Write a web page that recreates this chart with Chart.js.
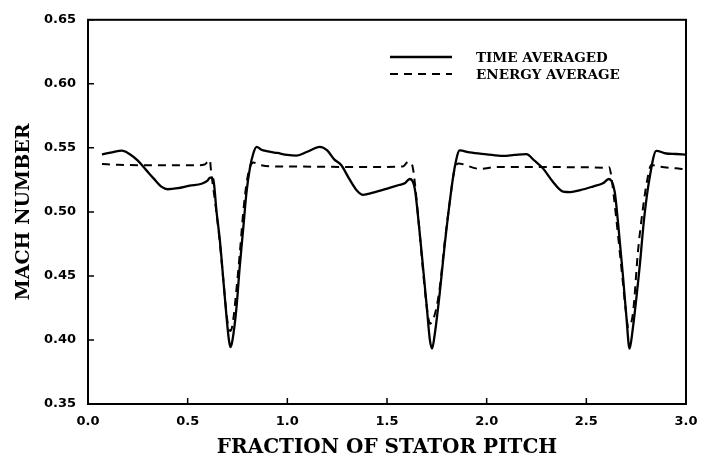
<!DOCTYPE html>
<html>
<head>
<meta charset="utf-8">
<script src="https://cdn.jsdelivr.net/npm/chart.js@4.4.1/dist/chart.umd.min.js"></script>
<style>
html,body{margin:0;padding:0;background:#fff;}
canvas{display:block;}
</style>
</head>
<body>
<canvas id="c" width="715" height="463"></canvas>
<script>
// ---- data ----
const xTicks = [0.0, 0.5, 1.0, 1.5, 2.0, 2.5, 3.0];
const yTicks = [0.35, 0.40, 0.45, 0.50, 0.55, 0.60, 0.65];

const timeAvgX = [0.07,0.12,0.17,0.21,0.25,0.29,0.33,0.37,0.40,0.45,0.51,0.57,0.60,0.612,0.628,0.645,0.662,0.68,0.695,0.707,0.715,0.725,0.745,0.76,0.779,0.795,0.812,0.83,0.846,0.87,0.896,0.95,1.00,1.046,1.10,1.163,1.20,1.235,1.27,1.31,1.35,1.38,1.43,1.497,1.56,1.589,1.614,1.639,1.66,1.681,1.70,1.715,1.726,1.74,1.764,1.79,1.815,1.84,1.865,1.915,2.00,2.082,2.14,2.199,2.24,2.282,2.33,2.383,2.42,2.47,2.533,2.583,2.613,2.642,2.66,2.683,2.70,2.717,2.73,2.767,2.79,2.817,2.851,2.901,2.95,2.995];
const timeAvgY = [0.545,0.5465,0.5478,0.545,0.540,0.533,0.526,0.5195,0.5177,0.5185,0.5205,0.522,0.5245,0.5267,0.5255,0.500,0.477,0.445,0.418,0.400,0.3944,0.400,0.4254,0.455,0.4875,0.515,0.534,0.546,0.5508,0.5485,0.5474,0.546,0.5445,0.544,0.547,0.5508,0.548,0.541,0.5366,0.526,0.5165,0.5133,0.515,0.518,0.521,0.5223,0.5257,0.5185,0.490,0.4564,0.425,0.400,0.3932,0.405,0.4358,0.475,0.5081,0.535,0.548,0.5464,0.545,0.5438,0.5445,0.5451,0.540,0.534,0.524,0.5159,0.5155,0.517,0.5198,0.5223,0.5257,0.5159,0.490,0.4513,0.420,0.3932,0.405,0.4564,0.495,0.5262,0.5477,0.5456,0.5452,0.5448];

const energyAvgX = [0.07,0.15,0.25,0.35,0.45,0.55,0.585,0.603,0.612,0.616,0.64,0.66,0.68,0.695,0.705,0.715,0.728,0.745,0.76,0.779,0.795,0.812,0.83,0.87,0.93,1.0,1.2,1.4,1.58,1.606,1.618,1.631,1.66,1.68,1.70,1.716,1.74,1.764,1.79,1.815,1.835,1.856,1.965,2.05,2.3,2.5,2.60,2.613,2.623,2.65,2.68,2.70,2.710,2.734,2.759,2.784,2.804,2.826,2.868,2.952,2.992];
const energyAvgY = [0.5374,0.5368,0.5365,0.5365,0.5365,0.5365,0.537,0.5397,0.5405,0.534,0.505,0.478,0.445,0.420,0.410,0.407,0.415,0.440,0.465,0.500,0.522,0.535,0.5385,0.5365,0.5355,0.5355,0.5352,0.535,0.5355,0.539,0.5385,0.5333,0.490,0.455,0.425,0.4127,0.420,0.440,0.477,0.508,0.530,0.5378,0.5336,0.535,0.535,0.5348,0.5345,0.535,0.530,0.495,0.450,0.420,0.4101,0.421,0.469,0.5028,0.5236,0.5366,0.5353,0.534,0.5333];

const legendLabels = ["TIME AVERAGED", "ENERGY AVERAGE"];
const xTitle = "FRACTION OF STATOR PITCH";
const yTitle = "MACH NUMBER";

const toPts = (xs, ys) => xs.map((x, i) => ({x: x, y: ys[i]}));

const framePlugin = {
  id: 'frame',
  afterDatasetsDraw(chart) {
    const {ctx, chartArea: a, scales} = chart;
    ctx.save();
    ctx.strokeStyle = '#000';
    ctx.lineWidth = 2;
    ctx.strokeRect(a.left, a.top, a.right - a.left, a.bottom - a.top);
    ctx.lineWidth = 1.5;
    ctx.beginPath();
    xTicks.forEach(v => {
      const px = scales.x.getPixelForValue(v);
      if (px > a.left + 2 && px < a.right - 2) {
        ctx.moveTo(px, a.bottom);
        ctx.lineTo(px, a.bottom - 6);
      }
    });
    yTicks.forEach(v => {
      const py = scales.y.getPixelForValue(v);
      if (py > a.top - 1 && py < a.bottom - 2) {
        ctx.moveTo(a.left, py);
        ctx.lineTo(a.left + 6, py);
      }
    });
    ctx.stroke();
    // legend
    const ds = chart.data.datasets;
    const rows = [57, 74];
    ctx.font = 'bold 13.5px "DejaVu Serif"';
    ctx.fillStyle = '#000';
    ctx.textBaseline = 'middle';
    rows.forEach((y, i) => {
      ctx.beginPath();
      ctx.lineWidth = ds[i].borderWidth;
      ctx.setLineDash(ds[i].borderDash || []);
      ctx.moveTo(390, y);
      ctx.lineTo(452, y);
      ctx.stroke();
      ctx.setLineDash([]);
      ctx.fillText(legendLabels[i], 476, y + 1);
    });
    ctx.restore();
  }
};

new Chart(document.getElementById('c'), {
  type: 'line',
  data: {
    datasets: [
      {
        label: legendLabels[0],
        data: toPts(timeAvgX, timeAvgY),
        borderColor: '#000',
        borderWidth: 2.3,
        pointRadius: 0,
        fill: false,
        cubicInterpolationMode: 'monotone'
      },
      {
        label: legendLabels[1],
        data: toPts(energyAvgX, energyAvgY),
        borderColor: '#000',
        borderWidth: 2,
        borderDash: [8, 6],
        pointRadius: 0,
        fill: false,
        cubicInterpolationMode: 'monotone'
      }
    ]
  },
  options: {
    responsive: false,
    animation: false,
    layout: {padding: {top: 17, right: 29, left: 0, bottom: 0}},
    plugins: {legend: {display: false}, tooltip: {enabled: false}},
    scales: {
      x: {
        type: 'linear',
        min: 0, max: 3,
        afterFit: s => { s.height = 59; },
        afterBuildTicks: s => { s.ticks = xTicks.map(v => ({value: v})); },
        grid: {display: false, drawTicks: false},
        border: {display: false},
        ticks: {
          color: '#000',
          padding: 10,
          maxRotation: 0,
          font: {family: '"DejaVu Sans"', size: 13, weight: 'bold'},
          callback: v => Number(v).toFixed(1)
        },
        title: {
          display: true,
          text: xTitle,
          color: '#000',
          font: {family: '"DejaVu Serif"', size: 20, weight: 'bold'},
          padding: {top: 0, bottom: 3}
        }
      },
      y: {
        type: 'linear',
        min: 0.35, max: 0.65,
        afterFit: s => { s.width = 88; },
        afterBuildTicks: s => { s.ticks = yTicks.map(v => ({value: v})); },
        grid: {display: false, drawTicks: false},
        border: {display: false},
        ticks: {
          color: '#000',
          padding: 12,
          font: {family: '"DejaVu Sans"', size: 13, weight: 'bold'},
          callback: v => Number(v).toFixed(2)
        },
        title: {
          display: true,
          text: yTitle,
          color: '#000',
          font: {family: '"DejaVu Serif"', size: 19, weight: 'bold'},
          padding: {top: 13, bottom: 0}
        }
      }
    }
  },
  plugins: [framePlugin]
});
</script>
</body>
</html>
